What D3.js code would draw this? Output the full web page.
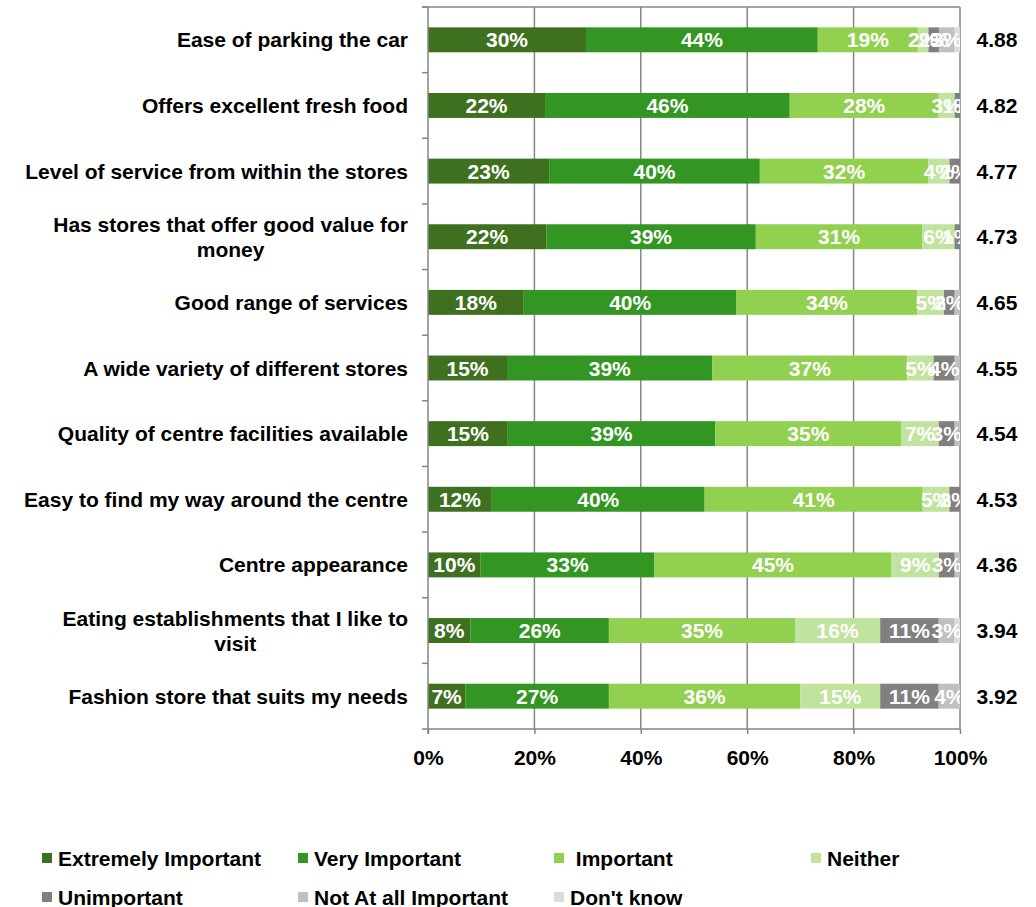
<!DOCTYPE html>
<html>
<head>
<meta charset="utf-8">
<script src="https://cdn.jsdelivr.net/npm/d3@7"></script>
<style>
  html, body { margin: 0; padding: 0; background: #ffffff; }
  svg text { font-family: "Liberation Sans", Arial, sans-serif; font-weight: bold; }
</style>
</head>
<body>
<svg id="chart" width="1036" height="907"></svg>
<script>
// Attributes rated, top to bottom
const categories = [
  "Ease of parking the car",
  "Offers excellent fresh food",
  "Level of service from within the stores",
  "Has stores that offer good value for money",
  "Good range of services",
  "A wide variety of different stores",
  "Quality of centre facilities available",
  "Easy to find my way around the centre",
  "Centre appearance",
  "Eating establishments that I like to visit",
  "Fashion store that suits my needs"
];

// Wrapped label lines for the longer attributes
const categoryLines = [
  ["Ease of parking the car"],
  ["Offers excellent fresh food"],
  ["Level of service from within the stores"],
  ["Has stores that offer good value for", "money"],
  ["Good range of services"],
  ["A wide variety of different stores"],
  ["Quality of centre facilities available"],
  ["Easy to find my way around the centre"],
  ["Centre appearance"],
  ["Eating establishments that I like to", "visit"],
  ["Fashion store that suits my needs"]
];

const seriesNames = [
  "Extremely Important", "Very Important", " Important", "Neither",
  "Unimportant", "Not At all Important", "Don't know"
];

// Percentage of respondents per rating (one array per series, in category order)
const extremelyImportant = [30, 22, 23, 22, 18, 15, 15, 12, 10, 8, 7];
const veryImportant      = [44, 46, 40, 39, 40, 39, 39, 40, 33, 26, 27];
const important          = [19, 28, 32, 31, 34, 37, 35, 41, 45, 35, 36];
const neither            = [2, 3, 4, 6, 5, 5, 7, 5, 9, 16, 15];
const unimportant        = [2, 1, 2, 1, 2, 4, 3, 2, 3, 11, 11];
const notAtAllImportant  = [3, 0, 0, 0, 1, 1, 1, 0, 1, 3, 4];
const dontKnow           = [1, 0, 0, 0, 0, 0, 0, 0, 0, 1, 0];

// Mean importance score per attribute
const meanScores = ["4.88", "4.82", "4.77", "4.73", "4.65", "4.55", "4.54", "4.53", "4.36", "3.94", "3.92"];

const xTickValues = [0, 20, 40, 60, 80, 100];

const seriesColors = ["#3e7020", "#339623", "#92d050", "#c0e39d", "#808080", "#c0c0c0", "#dcdcdc"];

const seriesValues = [extremelyImportant, veryImportant, important, neither,
                      unimportant, notAtAllImportant, dontKnow];

// ---- Layout ----
const svg = d3.select("#chart");
const plot = { left: 428, right: 960, top: 7, bottom: 729 };
const fontSize = 21;
const gridColor = "#868686";

const x = d3.scaleLinear().domain([0, 100]).range([plot.left, plot.right]);
const y = d3.scaleBand().domain(categories).range([plot.top, plot.bottom])
  .paddingInner(0.62).paddingOuter(0.31);
const yBoundary = d3.scaleLinear().domain([0, categories.length]).range([plot.top, plot.bottom]);

// 100% stacked: each category's total is expanded to fill the full width
const rows = categories.map((c, i) => {
  const row = { category: c };
  seriesNames.forEach((s, k) => { row[s] = seriesValues[k][i]; });
  return row;
});
const stacked = d3.stack().keys(seriesNames).offset(d3.stackOffsetExpand)(rows);
const px = v => x(v * 100);

// Vertical gridlines
svg.append("g").selectAll("line")
  .data(xTickValues.slice(1))
  .join("line")
  .attr("x1", d => x(d)).attr("x2", d => x(d))
  .attr("y1", plot.top).attr("y2", plot.bottom)
  .attr("stroke", gridColor).attr("stroke-width", 1.5);

// Top border of the plot area
svg.append("line")
  .attr("x1", plot.left - 6).attr("x2", plot.right)
  .attr("y1", plot.top).attr("y2", plot.top)
  .attr("stroke", gridColor).attr("stroke-width", 1.5);

// Bars
const barLayer = svg.append("g");
stacked.forEach((layer, k) => {
  barLayer.append("g")
    .attr("fill", seriesColors[k])
    .selectAll("rect")
    .data(layer)
    .join("rect")
    .attr("x", d => px(d[0]))
    .attr("width", d => px(d[1]) - px(d[0]))
    .attr("y", d => y(d.data.category))
    .attr("height", y.bandwidth());
});

// Segment value labels, clipped to the plot area
svg.append("clipPath").attr("id", "plotClip")
  .append("rect")
  .attr("x", plot.left).attr("y", plot.top)
  .attr("width", plot.right - plot.left).attr("height", plot.bottom - plot.top);

// 1% slivers of the last two ratings carry no label
const showLabel = (v, k) => v > 0 && (k < 5 || v >= 2);

const labelLayer = svg.append("g").attr("clip-path", "url(#plotClip)");
stacked.forEach((layer, k) => {
  labelLayer.append("g")
    .selectAll("text")
    .data(layer.filter(d => showLabel(d.data[layer.key], k)))
    .join("text")
    .attr("x", d => px((d[0] + d[1]) / 2))
    .attr("y", d => y(d.data.category) + y.bandwidth() / 2)
    .attr("dy", "0.36em")
    .attr("text-anchor", "middle")
    .attr("fill", "#ffffff")
    .attr("font-size", fontSize)
    .text(d => d.data[layer.key] + "%");
});

// Category axis (left)
const yAxisG = svg.append("g");
yAxisG.append("line")
  .attr("x1", plot.left).attr("x2", plot.left)
  .attr("y1", plot.top).attr("y2", plot.bottom + 5)
  .attr("stroke", gridColor).attr("stroke-width", 1.5);
yAxisG.selectAll("line.tick")
  .data(d3.range(0, categories.length + 1))
  .join("line")
  .attr("class", "tick")
  .attr("x1", plot.left - 6).attr("x2", plot.left)
  .attr("y1", d => yBoundary(d)).attr("y2", d => yBoundary(d))
  .attr("stroke", gridColor).attr("stroke-width", 1.5);

// Category labels: block right-aligned, lines centred within it
const catLabels = svg.append("g");
categories.forEach((c, i) => {
  const lines = categoryLines[i];
  const cy = y(c) + y.bandwidth() / 2;
  const lh = 25;
  const tmp = catLabels.append("text").attr("font-size", fontSize);
  const blockW = d3.max(lines, l => { tmp.text(l); return tmp.node().getComputedTextLength(); });
  tmp.remove();
  const cx = 408 - blockW / 2;
  const t = catLabels.append("text")
    .attr("font-size", fontSize)
    .attr("fill", "#000000");
  lines.forEach((l, j) => {
    t.append("tspan")
      .attr("x", cx)
      .attr("y", cy + (j - (lines.length - 1) / 2) * lh)
      .attr("dy", "0.36em")
      .attr("text-anchor", "middle")
      .text(l);
  });
});

// Mean scores (right)
svg.append("g").selectAll("text")
  .data(categories)
  .join("text")
  .attr("x", 997)
  .attr("y", d => y(d) + y.bandwidth() / 2)
  .attr("dy", "0.36em")
  .attr("text-anchor", "middle")
  .attr("font-size", fontSize)
  .attr("fill", "#000000")
  .text((d, i) => meanScores[i]);

// Value axis (bottom)
const xAxis = d3.axisBottom(x)
  .tickValues(xTickValues)
  .tickSize(5)
  .tickFormat(d => d + "%");
const xAxisG = svg.append("g")
  .attr("transform", `translate(0,${plot.bottom})`)
  .call(xAxis);
xAxisG.select(".domain").attr("stroke", gridColor).attr("stroke-width", 1.5)
  .attr("d", `M${plot.left},0H${plot.right}`);
xAxisG.selectAll(".tick line").attr("stroke", gridColor).attr("stroke-width", 1.5);
xAxisG.selectAll(".tick text")
  .attr("font-size", fontSize)
  .attr("font-family", "Liberation Sans, Arial, sans-serif")
  .attr("fill", "#000000")
  .attr("y", 21)
  .attr("dy", "0.71em");

// Legend
const legendPos = [
  [42, 858], [298, 858], [554, 858], [811, 858],
  [42, 897], [298, 897], [554, 897]
];
const legend = svg.append("g");
seriesNames.forEach((s, k) => {
  const [lx, ly] = legendPos[k];
  legend.append("rect")
    .attr("x", lx).attr("y", ly - 5)
    .attr("width", 10).attr("height", 10)
    .attr("fill", seriesColors[k]);
  legend.append("text")
    .attr("x", lx + 16).attr("y", ly)
    .attr("dy", "0.36em")
    .attr("font-size", fontSize)
    .attr("fill", "#000000")
    .style("white-space", "pre")
    .text(s);
});
</script>
</body>
</html>
